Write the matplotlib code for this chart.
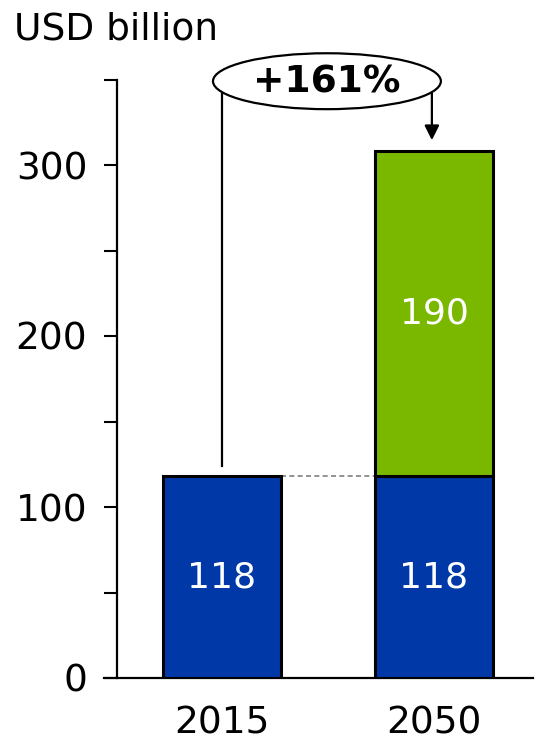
import matplotlib.pyplot as plt
from matplotlib.patches import Ellipse

years = ['2015', '2050']
base = [118, 118]
added = [0, 190]
growth_label = '+161%'
unit_label = 'USD billion'

blue = '#0038A8'
green = '#7AB800'

fig = plt.figure(figsize=(5.35, 7.41), dpi=100)
ax = fig.add_axes([104/535, 1-678/741, 429/535, (678-79.5)/741])

x = [0, 1]
w = 0.557
ax.bar(x, base, width=w, color=blue, edgecolor='black', linewidth=2.2, zorder=3)
ax.bar(x[1], added[1], bottom=base[1], width=w, color=green, edgecolor='black', linewidth=2.2, zorder=3)

# labels inside the bars
for xi, b in zip(x, base):
    ax.text(xi, b/2, str(b), color='white', fontsize=26, ha='center', va='center', zorder=4)
ax.text(x[1], base[1] + added[1]/2, str(added[1]), color='white', fontsize=26,
        ha='center', va='center', zorder=4)

# dashed connector between bars
ax.plot([x[0] + w/2, x[1] - w/2], [base[0], base[0]], color='#808080',
        linestyle=(0, (3, 2)), linewidth=1.2, zorder=2)

# growth annotation
top = base[1] + added[1]
ax.plot([x[0], x[0]], [base[0] + 6, 349], color='black', linewidth=1.6, clip_on=False, zorder=4)
ax.annotate('', xy=(x[1] - 0.01, top + 6.5), xytext=(x[1] - 0.01, 345),
            arrowprops=dict(arrowstyle='-|>', color='black', lw=1.6,
                            mutation_scale=22, shrinkA=0, shrinkB=0),
            annotation_clip=False, zorder=4)
ell = Ellipse((0.495, 349), 1.075, 32.7, facecolor='white', edgecolor='black',
              linewidth=1.6, clip_on=False, zorder=5)
ax.add_patch(ell)
ax.text(0.495, 348, growth_label, fontsize=27, fontweight='bold', ha='center',
        va='center', zorder=6, clip_on=False)

ax.set_xlim(-0.5566, 1.467)
ax.set_ylim(0, 350)

for s in ['top', 'right']:
    ax.spines[s].set_visible(False)
ax.spines['left'].set_position(('data', -0.495))
ax.spines['left'].set_bounds(0, 350)
ax.spines['left'].set_linewidth(1.6)
ax.spines['bottom'].set_linewidth(1.6)

ax.set_yticks([0, 100, 200, 300])
ax.set_yticks([50, 150, 250, 350], minor=True)
ax.tick_params(axis='y', which='both', direction='out', length=9.4, width=1.5,
               labelsize=27, pad=12)
ax.set_xticks(x)
ax.set_xticklabels(years)
ax.tick_params(axis='x', length=0, labelsize=27, pad=20)

fig.text(14/535, 1-39/741, unit_label, fontsize=27, ha='left', va='baseline')

fig.savefig('out.png', dpi=100)
